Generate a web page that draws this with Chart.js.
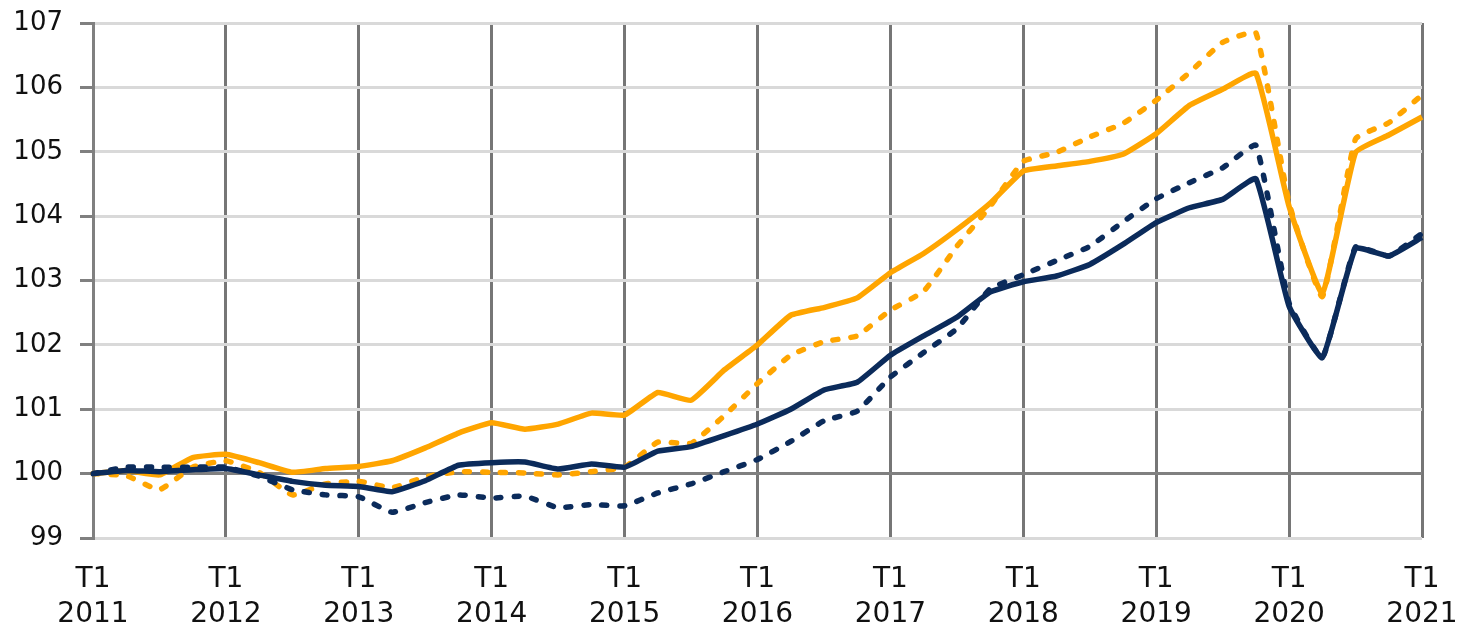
<!DOCTYPE html>
<html>
<head>
<meta charset="utf-8">
<script src="https://cdn.jsdelivr.net/npm/chart.js@4/dist/chart.umd.min.js"></script>
<style>
  html, body { margin: 0; padding: 0; background: #fff; }
  #wrap { width: 1460px; height: 627px; position: relative; }
</style>
</head>
<body>
<div id="wrap"><canvas id="myChart"></canvas></div>
<script>
// quarters T1 2011 .. T1 2021
const years = ['2011', '2012', '2013', '2014', '2015', '2016', '2017', '2018', '2019', '2020', '2021'];
const quarters = ['T1', 'T2', 'T3', 'T4'];
const categories = [];
years.forEach(y => quarters.forEach(q => categories.push(q + ' ' + y)));
categories.length = 41;

const yTicks = [99, 100, 101, 102, 103, 104, 105, 106, 107];

// orange solid
const orangeSolid = [100.0, 100.05, 99.98, 100.25, 100.3, 100.17, 100.02, 100.08, 100.11, 100.2,
  100.4, 100.63, 100.79, 100.69, 100.77, 100.94, 100.91, 101.26, 101.14, 101.61,
  102.0, 102.46, 102.58, 102.73, 103.12, 103.42, 103.79, 104.2, 104.7, 104.78,
  104.85, 104.96, 105.28, 105.72, 105.97, 106.22, 104.15, 102.8, 104.99, 105.26, 105.54];
// orange dashed
const orangeDashed = [100.0, 99.97, 99.75, 100.1, 100.2, 100.02, 99.67, 99.84, 99.88, 99.78,
  99.95, 100.03, 100.02, 100.01, 99.98, 100.03, 100.1, 100.49, 100.47, 100.9,
  101.4, 101.84, 102.05, 102.14, 102.54, 102.83, 103.53, 104.15, 104.85, 104.99,
  105.23, 105.44, 105.8, 106.23, 106.7, 106.85, 104.2, 102.75, 105.2, 105.45, 105.88];
// navy solid
const navySolid = [100.0, 100.05, 100.03, 100.06, 100.08, 99.98, 99.88, 99.82, 99.8, 99.72,
  99.89, 100.13, 100.17, 100.18, 100.07, 100.15, 100.1, 100.35, 100.42, 100.59,
  100.77, 101.0, 101.3, 101.42, 101.84, 102.14, 102.43, 102.82, 102.98, 103.07,
  103.25, 103.56, 103.9, 104.13, 104.26, 104.58, 102.6, 101.8, 103.5, 103.38, 103.67];
// navy dashed
const navyDashed = [100.0, 100.1, 100.1, 100.1, 100.1, 99.96, 99.75, 99.67, 99.64, 99.4,
  99.55, 99.67, 99.62, 99.65, 99.47, 99.52, 99.5, 99.7, 99.84, 100.03,
  100.22, 100.5, 100.82, 100.97, 101.5, 101.88, 102.25, 102.87, 103.09, 103.31,
  103.53, 103.91, 104.27, 104.52, 104.75, 105.1, 102.65, 101.8, 103.52, 103.38, 103.73];

const ORANGE = '#FFA500';
const NAVY = '#0B2B5B';
const FONT = 'DejaVu Sans';

const ctx = document.getElementById('myChart').getContext('2d');
const chart = new Chart(ctx, {
  type: 'line',
  data: {
    labels: categories,
    datasets: [
      { data: navyDashed, borderColor: NAVY, borderWidth: 5.5, borderDash: [5, 13], borderCapStyle: 'round', order: 1 },
      { data: navySolid, borderColor: NAVY, borderWidth: 5.5, order: 2 },
      { data: orangeSolid, borderColor: ORANGE, borderWidth: 5.5, order: 3 },
      { data: orangeDashed, borderColor: ORANGE, borderWidth: 5.5, borderDash: [5, 13], borderCapStyle: 'round', order: 4 }
    ]
  },
  options: {
    responsive: true,
    maintainAspectRatio: false,
    devicePixelRatio: 1,
    animation: false,
    layout: { padding: { top: 23, right: 38, left: 0, bottom: 0 } },
    elements: { point: { radius: 0 }, line: { tension: 0.12, fill: false } },
    plugins: { legend: { display: false }, tooltip: { enabled: false } },
    scales: {
      x: {
        afterFit: s => { s.height = 89; s.paddingLeft = 0; s.paddingRight = 0; },
        border: { display: false },
        grid: {
          color: c => (c.index % 4 === 0 ? '#767676' : 'rgba(0,0,0,0)'),
          lineWidth: 3,
          drawTicks: false
        },
        ticks: {
          autoSkip: false,
          maxRotation: 0,
          padding: 24,
          color: '#111',
          font: { family: FONT, size: 28, lineHeight: 1.25 },
          callback: (v, i) => {
            const p = categories[i].split(' ');
            return p[0] === 'T1' ? [p[0], p[1]] : '';
          }
        }
      },
      y: {
        min: yTicks[0],
        max: yTicks[yTicks.length - 1],
        afterFit: s => { s.width = 93; s.paddingTop = 0; s.paddingBottom = 0; },
        afterBuildTicks: s => { s.ticks = yTicks.map(v => ({ value: v })); },
        border: { color: '#808080', width: 3 },
        grid: {
          color: c => (c.tick && c.tick.value === 100 ? '#808080' : '#d9d9d9'),
          tickColor: '#808080',
          lineWidth: 3,
          tickLength: 13
        },
        ticks: {
          padding: 17,
          color: '#111',
          font: { family: FONT, size: 26 }
        }
      }
    }
  }
});
</script>
</body>
</html>
